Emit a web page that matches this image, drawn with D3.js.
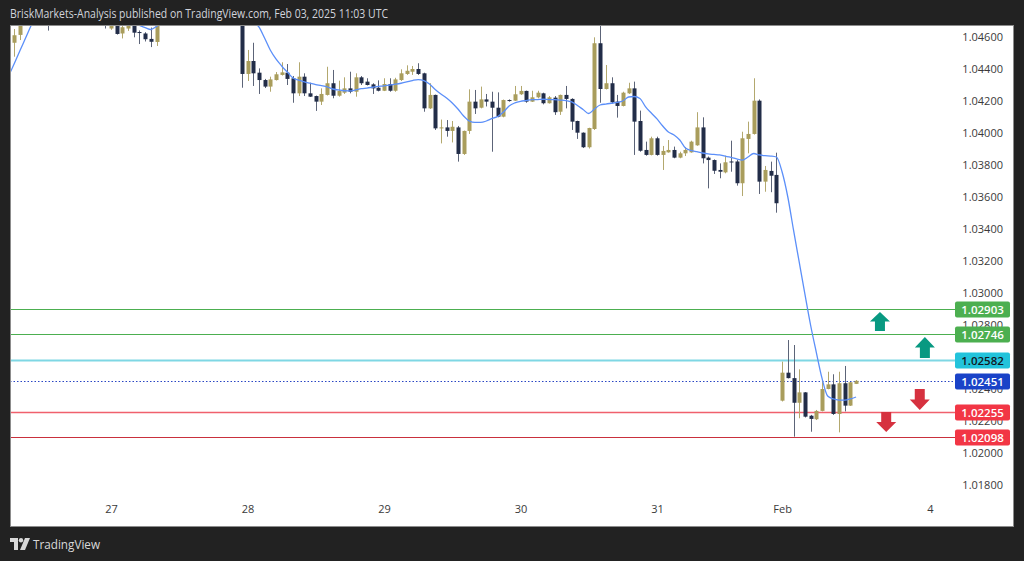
<!DOCTYPE html>
<html><head><meta charset="utf-8">
<script src="https://cdn.jsdelivr.net/npm/d3@7"></script>
<style>html,body{margin:0;padding:0;background:#222222;overflow:hidden}svg{display:block}</style>
</head><body>
<svg id="c" width="1024" height="561"></svg>
<script>
// ---- DATA (hourly EURUSD bars, index 0 = Jan 27 00:00 UTC) ----
const firstBar = -17;
const opens = [1.04564,1.04613,1.04700,1.04770,1.04830,1.04880,1.04850,1.04760,1.04820,1.04900,1.04950,1.04930,1.04900,1.04880,1.04860,1.04750,1.04760,
1.04653,1.04720,1.04622,1.04653,1.04700,1.04631,1.04622,1.04588,1.04569,1.04700,1.04760,1.04830,1.04900,1.04960,1.05010,1.04990,1.04950,1.04930,1.04900,1.04880,1.04870,1.04850,1.04810,1.04780,
1.04369,1.04450,1.04377,1.04331,1.04290,1.04331,1.04363,1.04377,1.04342,1.04248,1.04352,1.04248,1.04231,1.04196,1.04238,1.04311,1.04233,1.04252,1.04279,1.04258,1.04348,1.04321,1.04304,1.04283,
1.04264,1.04306,1.04264,1.04331,1.04369,1.04383,1.04400,1.04373,1.04154,1.04238,1.04031,1.04035,1.04013,1.04035,1.03869,1.04013,1.04196,1.04158,1.04210,1.04196,1.04158,1.04102,1.04206,1.04202,
1.04242,1.04263,1.04196,1.04223,1.04248,1.04186,1.04221,1.04133,1.04238,1.04213,1.04075,1.04002,1.03911,1.04025,1.04561,1.04275,1.04311,1.04196,1.04169,1.04248,1.04279,1.04075,1.03894,1.03863,
1.03967,1.03863,1.03879,1.03894,1.03846,1.03873,1.03879,1.03923,1.04035,1.03846,1.03831,1.03769,1.03754,1.03822,1.03822,1.03686,1.03963,1.03994,1.04202,1.03696,1.03763,1.03738,
1.02327,1.02502,1.02468,1.02314,1.02379,1.02233,1.02211,1.02263,1.02400,1.02429,1.02244,1.02436,1.02296,1.02432];
const highs = [1.04650,1.04740,1.04790,1.04860,1.04920,1.04960,1.04900,1.04850,1.04930,1.04980,1.05020,1.04990,1.04960,1.04920,1.04900,1.04800,1.04790,
1.04750,1.04740,1.04690,1.04730,1.04720,1.04641,1.04630,1.04659,1.04740,1.04780,1.04850,1.04920,1.04990,1.05040,1.05080,1.05030,1.05000,1.04960,1.04940,1.04920,1.04900,1.04880,1.04840,1.04800,
1.04519,1.04564,1.04404,1.04338,1.04352,1.04381,1.04442,1.04431,1.04356,1.04442,1.04373,1.04314,1.04234,1.04279,1.04414,1.04394,1.04327,1.04348,1.04383,1.04373,1.04356,1.04342,1.04311,1.04329,
1.04342,1.04342,1.04345,1.04398,1.04423,1.04419,1.04436,1.04377,1.04311,1.04240,1.04084,1.04081,1.04075,1.04044,1.04015,1.04273,1.04269,1.04290,1.04244,1.04258,1.04254,1.04209,1.04210,1.04294,
1.04294,1.04265,1.04264,1.04264,1.04252,1.04231,1.04231,1.04240,1.04294,1.04217,1.04077,1.04004,1.04033,1.04598,1.04681,1.04425,1.04348,1.04238,1.04258,1.04314,1.04321,1.04140,1.03946,1.03977,
1.03977,1.03919,1.03956,1.03915,1.03883,1.03912,1.03952,1.04130,1.04098,1.03853,1.03835,1.03810,1.03858,1.03952,1.03831,1.04008,1.04071,1.04342,1.04210,1.03794,1.03821,1.03877,
1.02571,1.02706,1.02675,1.02523,1.02381,1.02238,1.02269,1.02456,1.02508,1.02492,1.02508,1.02544,1.02444,1.02456];
const lows = [1.04477,1.04581,1.04690,1.04740,1.04800,1.04820,1.04640,1.04720,1.04800,1.04860,1.04900,1.04870,1.04850,1.04830,1.04800,1.04700,1.04653,
1.04645,1.04615,1.04591,1.04638,1.04598,1.04556,1.04572,1.04537,1.04544,1.04690,1.04740,1.04800,1.04860,1.04920,1.04960,1.04920,1.04900,1.04870,1.04850,1.04840,1.04820,1.04790,1.04760,1.04283,
1.04325,1.04294,1.04244,1.04281,1.04258,1.04328,1.04359,1.04300,1.04189,1.04231,1.04231,1.04225,1.04138,1.04175,1.04234,1.04217,1.04227,1.04244,1.04248,1.04227,1.04300,1.04297,1.04244,1.04260,
1.04262,1.04258,1.04258,1.04325,1.04363,1.04363,1.04363,1.04133,1.04150,1.04019,1.03935,1.03977,1.03941,1.03821,1.03863,1.03994,1.04119,1.04154,1.04166,1.03883,1.04098,1.04098,1.04196,1.04200,
1.04238,1.04189,1.04194,1.04217,1.04179,1.04184,1.04113,1.04113,1.04154,1.04019,1.03963,1.03906,1.03903,1.04019,1.04189,1.04272,1.04186,1.04096,1.04166,1.04244,1.03863,1.03883,1.03858,1.03860,
1.03858,1.03769,1.03877,1.03842,1.03842,1.03856,1.03877,1.03920,1.03810,1.03654,1.03744,1.03717,1.03748,1.03758,1.03671,1.03606,1.03873,1.03990,1.03619,1.03633,1.03630,1.03502,
1.02322,1.02466,1.02102,1.02217,1.02222,1.02133,1.02206,1.02260,1.02398,1.02238,1.02129,1.02260,1.02294,1.02431];
const closes = [1.04611,1.04700,1.04770,1.04830,1.04880,1.04850,1.04760,1.04820,1.04900,1.04950,1.04930,1.04900,1.04880,1.04860,1.04820,1.04760,1.04700,
1.04720,1.04619,1.04661,1.04700,1.04627,1.04628,1.04586,1.04570,1.04700,1.04760,1.04830,1.04900,1.04960,1.05010,1.04990,1.04950,1.04930,1.04900,1.04880,1.04870,1.04850,1.04810,1.04780,1.04369,
1.04450,1.04373,1.04331,1.04290,1.04335,1.04367,1.04379,1.04338,1.04248,1.04352,1.04248,1.04227,1.04196,1.04244,1.04311,1.04233,1.04264,1.04279,1.04258,1.04348,1.04311,1.04300,1.04279,1.04264,
1.04306,1.04264,1.04335,1.04373,1.04389,1.04400,1.04369,1.04154,1.04238,1.04029,1.04035,1.04013,1.04039,1.03869,1.04013,1.04196,1.04154,1.04210,1.04196,1.04158,1.04102,1.04206,1.04202,1.04242,
1.04263,1.04196,1.04223,1.04252,1.04186,1.04223,1.04130,1.04238,1.04213,1.04071,1.04002,1.03911,1.04031,1.04561,1.04275,1.04311,1.04192,1.04169,1.04252,1.04279,1.04071,1.03889,1.03863,1.03967,
1.03863,1.03888,1.03894,1.03846,1.03873,1.03894,1.03946,1.04035,1.03842,1.03831,1.03764,1.03758,1.03817,1.03819,1.03686,1.03967,1.03994,1.04202,1.03696,1.03769,1.03733,1.03561,
1.02502,1.02468,1.02314,1.02379,1.02227,1.02213,1.02263,1.02400,1.02429,1.02244,1.02436,1.02296,1.02442,1.02451];
// moving average line as drawn on the chart, index starts at -18
const maStart = -18;
const maValues = [1.04356,1.04435,1.04515,1.04595,1.04675,1.04740,1.04790,1.04820,1.04830,1.04840,1.04850,1.04860,1.04860,1.04850,1.04840,1.04820,1.04800,1.04780,
1.04760,1.04740,1.04720,1.04705,1.04690,1.04672,1.04659,1.04647,1.04666,1.04690,1.04720,1.04750,1.04780,1.04810,1.04840,1.04860,1.04880,1.04890,1.04900,1.04900,1.04890,1.04870,1.04850,1.04810,
1.04770,1.04700,1.04663,1.04594,1.04519,1.04463,1.04419,1.04381,1.04344,1.04331,1.04319,1.04311,1.04303,1.04296,1.04288,1.04275,1.04269,1.04264,1.04263,1.04269,1.04277,1.04281,1.04286,1.04291,
1.04294,1.04300,1.04305,1.04311,1.04319,1.04328,1.04334,1.04328,1.04306,1.04272,1.04244,1.04219,1.04188,1.04150,1.04106,1.04075,1.04066,1.04066,1.04075,1.04091,1.04103,1.04131,1.04169,1.04188,
1.04198,1.04203,1.04208,1.04209,1.04211,1.04209,1.04208,1.04206,1.04203,1.04194,1.04172,1.04147,1.04122,1.04150,1.04175,1.04181,1.04186,1.04191,1.04200,1.04225,1.04228,1.04216,1.04163,1.04125,
1.04088,1.04044,1.04006,1.03988,1.03956,1.03906,1.03891,1.03883,1.03875,1.03869,1.03866,1.03863,1.03856,1.03847,1.03838,1.03831,1.03850,1.03872,1.03863,1.03858,1.03856,1.03850,
1.03756,1.03600,1.03394,1.03194,1.02994,1.02800,1.02631,1.02469,1.02356,1.02338,1.02331,1.02331,1.02338,1.02350];
// price-scale labels visible in the reference (1.02600 is fully hidden behind a level box there)
const priceTicks = [1.046,1.044,1.042,1.040,1.038,1.036,1.034,1.032,1.030,1.028,1.024,1.022,1.020,1.018];
const timeTickIdx = [0,24,48,72,96,118,144];
const timeTickLabels = ["27","28","29","30","31","Feb","4"];
const levelPrices = [1.02903,1.02746,1.02582,1.02451,1.02255,1.02098];
const levelLabels = ["1.02903","1.02746","1.02582","1.02451","1.02255","1.02098"];
const arrowIdx = [135.2,143.1,142.2,136.3];
const arrowTop = [1.02881,1.02725,1.02400,1.02256];
const arrowBottom = [1.02762,1.02594,1.02269,1.02131];
const arrowDir = ["up","up","down","down"];
const headerText = "BriskMarkets-Analysis published on TradingView.com, Feb 03, 2025 11:03 UTC";

// ---- STYLE ----
const levelStyle = [
  {stroke:"#4caf50", w:1, dash:null, box:"#4caf50", txt:"#ffffff"},
  {stroke:"#4caf50", w:1, dash:null, box:"#4caf50", txt:"#ffffff"},
  {stroke:"#7fd7e4", w:2, dash:null, box:"#22c3db", txt:"#131722"},
  {stroke:"#2a46c4", w:1, dash:"1.5,2", box:"#1a43c8", txt:"#ffffff"},
  {stroke:"#f0606d", w:1.5, dash:null, box:"#f23645", txt:"#ffffff"},
  {stroke:"#c9303d", w:1, dash:null, box:"#f23645", txt:"#ffffff"}
];
const upCol = "#a99d5c", downCol = "#222d48";
const upWick = "#b3a86e", downWick = "#5c6478";

const svg = d3.select("#c");
const W = 1024, H = 561;
svg.append("rect").attr("width",W).attr("height",H).attr("fill","#222222");

// panel
svg.append("rect").attr("x",10.5).attr("y",25.5).attr("width",1003).attr("height",501)
  .attr("fill","#ffffff").attr("stroke","#8c8c8c").attr("stroke-width",1);

const x = d3.scaleLinear().domain([0,24]).range([111,247.5]);
const y = d3.scaleLinear().domain([1.018,1.046]).range([485,37]);

const defs = svg.append("defs");
defs.append("clipPath").attr("id","plot").append("rect").attr("x",11).attr("y",26).attr("width",944).attr("height",475);

// header
svg.append("text").attr("x",10).attr("y",18).attr("fill","#d1d4dc")
  .attr("font-family","Open Sans, Roboto, sans-serif").attr("font-size",12).attr("font-weight",500)
  .attr("textLength",378).attr("lengthAdjust","spacingAndGlyphs").text(headerText);

// price axis labels
const yAxis = d3.axisRight(y).tickValues(priceTicks).tickFormat(d3.format(".5f")).tickSize(0).tickPadding(0);
const ya = svg.append("g").attr("transform","translate(1003,0)").call(yAxis);
ya.select(".domain").remove();
ya.selectAll("text").attr("text-anchor","end").attr("fill","#3a3a3a")
  .attr("font-family","Open Sans, Roboto, sans-serif").attr("font-size",11).attr("dy","0.35em");

// time axis labels
const xAxis = d3.axisBottom(x).tickValues(timeTickIdx).tickFormat((d,i)=>timeTickLabels[i]).tickSize(0).tickPadding(0);
const xa = svg.append("g").attr("transform","translate(0,505)").call(xAxis);
xa.select(".domain").remove();
xa.selectAll("text").attr("fill","#3a3a3a").attr("font-family","Open Sans, Roboto, sans-serif").attr("font-size",11).attr("dy","0.7em");

const plot = svg.append("g").attr("clip-path","url(#plot)");

// level lines
levelPrices.forEach((p,k)=>{
  const st = levelStyle[k];
  plot.append("line").attr("x1",10).attr("x2",955)
    .attr("y1",Math.round(y(p))+0.5).attr("y2",Math.round(y(p))+0.5)
    .attr("stroke",st.stroke).attr("stroke-width",st.w)
    .attr("stroke-dasharray",st.dash);
});

// candles
const bars = opens.map((o,k)=>({i:firstBar+k,o:o,h:highs[k],l:lows[k],c:closes[k]}));
const cg = plot.append("g");
cg.selectAll("line.wick").data(bars).join("line").attr("class","wick")
  .attr("x1",d=>Math.round(x(d.i))+0.5).attr("x2",d=>Math.round(x(d.i))+0.5)
  .attr("y1",d=>y(d.h)).attr("y2",d=>y(d.l))
  .attr("stroke",d=>d.c>=d.o?upWick:downWick).attr("stroke-width",1);
cg.selectAll("rect.body").data(bars).join("rect").attr("class","body")
  .attr("x",d=>Math.round(x(d.i))-1.5).attr("width",4)
  .attr("y",d=>y(Math.max(d.o,d.c)))
  .attr("height",d=>Math.max(1,y(Math.min(d.o,d.c))-y(Math.max(d.o,d.c))))
  .attr("fill",d=>d.c>=d.o?upCol:downCol);

// moving average
const maPts = maValues.map((v,k)=>[x(maStart+k),y(v)]);
plot.append("path").attr("d",d3.line().curve(d3.curveMonotoneX)(maPts))
  .attr("fill","none").attr("stroke","#5b8ff9").attr("stroke-width",1.3);

// arrows
arrowIdx.forEach((ai,k)=>{
  const cx = x(ai), t = y(arrowTop[k]), b = y(arrowBottom[k]);
  const hw = 10, sw = 5, hh = (b-t)*0.5;
  let pts;
  if(arrowDir[k]==="up"){
    pts = [[cx,t],[cx+hw,t+hh],[cx+sw,t+hh],[cx+sw,b],[cx-sw,b],[cx-sw,t+hh],[cx-hw,t+hh]];
  } else {
    pts = [[cx,b],[cx+hw,b-hh],[cx+sw,b-hh],[cx+sw,t],[cx-sw,t],[cx-sw,b-hh],[cx-hw,b-hh]];
  }
  svg.append("polygon").attr("points",pts.map(p=>p.join(",")).join(" "))
    .attr("fill",arrowDir[k]==="up"?"#089981":"#d6313f");
});

// level label boxes
levelPrices.forEach((p,k)=>{
  const st = levelStyle[k];
  const cy = Math.round(y(p))+0.5;
  svg.append("rect").attr("x",955).attr("y",cy-8).attr("width",55).attr("height",16).attr("rx",2)
    .attr("fill",st.box);
  svg.append("text").attr("x",982.5).attr("y",cy).attr("dy","0.36em").attr("text-anchor","middle")
    .attr("fill",st.txt).attr("font-family","Open Sans, Roboto, sans-serif").attr("font-size",11.5)
    .attr("font-weight",600).text(levelLabels[k]);
});

// TradingView logo
const logo = svg.append("g").attr("transform","translate(10,538)").attr("fill","#d9d9d9");
logo.append("path").attr("d","M0 0H8V12H4V4H0Z");
logo.append("circle").attr("cx",11).attr("cy",2.2).attr("r",2.2);
logo.append("path").attr("d","M15 0H20L15 12H10Z");
svg.append("text").attr("x",33).attr("y",549).attr("fill","#d9d9d9")
  .attr("font-family","Open Sans, Roboto, sans-serif").attr("font-size",12.5)
  .attr("textLength",67).attr("lengthAdjust","spacingAndGlyphs").text("TradingView");
</script>
</body></html>
